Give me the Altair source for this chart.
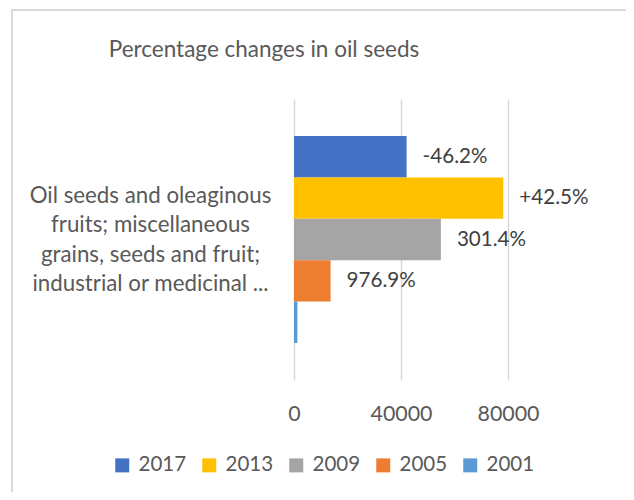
import altair as alt
import pandas as pd

TITLE = "Percentage changes in oil seeds"
CATEGORY_LINES = [
    "Oil seeds and oleaginous",
    "fruits; miscellaneous",
    "grains, seeds and fruit;",
    "industrial or medicinal ...",
]
YEARS = ["2017", "2013", "2009", "2005", "2001"]
VALUES = [42100, 78250, 54910, 13680, 1270]
CHANGE_LABELS = ["-46.2%", "+42.5%", "301.4%", "976.9%", ""]
COLORS = ["#4472C4", "#FFC000", "#A5A5A5", "#ED7D31", "#5B9BD5"]
X_TICKS = [0, 40000, 80000]

FONT = "Lato"
GREY_TEXT = "#595959"

category = "\n".join(CATEGORY_LINES)
df = pd.DataFrame({
    "category": [category] * len(YEARS),
    "year": YEARS,
    "value": VALUES,
    "label": CHANGE_LABELS,
})

base = alt.Chart(df).encode(
    y=alt.Y(
        "category:N",
        scale=alt.Scale(paddingInner=0, paddingOuter=0.179),
        axis=alt.Axis(
            title=None,
            labelExpr="split(datum.value, '\\n')",
            labelAlign="center",
            labelBaseline="middle",
            labelPadding=144,
            labelOffset=-44,
            labelLimit=400,
            labelLineHeight=29.5,
            labelFontSize=22.3,
            labelFont=FONT,
            labelColor=GREY_TEXT,
            ticks=False,
            tickSize=0,
            domain=False,
            grid=False,
        ),
    ),
    yOffset=alt.YOffset(
        "year:N", sort=YEARS, scale=alt.Scale(domain=YEARS, paddingInner=0, paddingOuter=0)
    ),
)

bars = base.mark_bar().encode(
    x=alt.X(
        "value:Q",
        scale=alt.Scale(domain=[0, 80000], nice=False, zero=True),
        axis=alt.Axis(
            values=X_TICKS,
            format="d",
            title=None,
            grid=True,
            gridColor="#d9d9d9",
            gridWidth=1.5,
            domain=False,
            ticks=False,
            tickSize=0,
            labelFlush=False,
            labelFontSize=21.4,
            labelFont=FONT,
            labelColor=GREY_TEXT,
            labelPadding=23,
        ),
    ),
    color=alt.Color(
        "year:N",
        sort=YEARS,
        scale=alt.Scale(domain=YEARS, range=COLORS),
        legend=alt.Legend(
            title=None,
            orient="none",
            legendX=-182,
            legendY=356,
            direction="horizontal",
            columns=5,
            symbolType="square",
            symbolSize=196,
            symbolStrokeWidth=0,
            labelFontSize=20.5,
            labelFont=FONT,
            labelColor=GREY_TEXT,
            labelOffset=6,
            columnPadding=12,
            padding=0,
        ),
    ),
)

labels = base.mark_text(
    align="left", baseline="middle", dx=16, fontSize=20.6, font=FONT, color="#404040"
).encode(
    x=alt.X("value:Q"),
    text=alt.Text("label:N"),
)

border = alt.Chart(pd.DataFrame({"b": [0]})).mark_rect(
    fillOpacity=0, stroke="#d9d9d9", strokeWidth=2
).encode(
    x=alt.value(-282), x2=alt.value(334), y=alt.value(-89), y2=alt.value(420)
)

title = alt.Chart(pd.DataFrame({"t": [TITLE]})).mark_text(
    font=FONT, fontSize=22.5, color=GREY_TEXT, align="center", baseline="alphabetic"
).encode(
    x=alt.value(-30), y=alt.value(-42), text=alt.Text("t:N")
)

chart = alt.layer(border, bars, labels, title).properties(
    width=214,
    height=281,
    autosize=alt.AutoSizeParams(type="none"),
    padding={"left": 286, "top": 91, "right": 118, "bottom": 112},
    background="white",
).configure_view(stroke=None)

chart.save("out.html", embed_options={"renderer": "svg", "actions": False})
